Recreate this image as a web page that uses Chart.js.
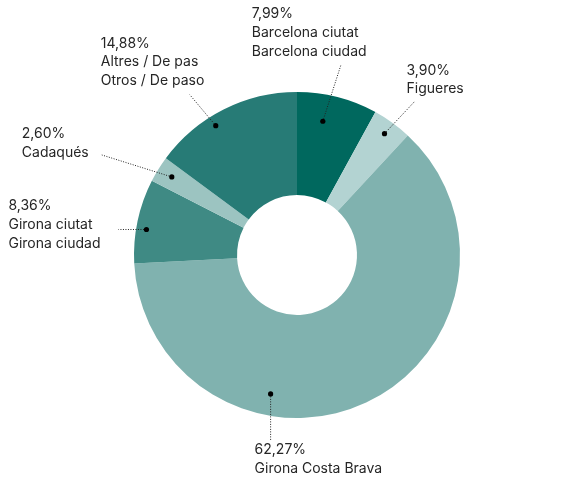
<!DOCTYPE html>
<html>
<head>
<meta charset="utf-8">
<script src="https://cdn.jsdelivr.net/npm/chart.js@4"></script>
<style>
html,body{margin:0;padding:0;background:#fff;}
#wrap{width:586px;height:481px;position:relative;}
</style>
</head>
<body>
<div id="wrap"><canvas id="c" width="586" height="481"></canvas></div>
<script>
// ---- data ----
const categories = ["Barcelona ciutat / Barcelona ciudad", "Figueres", "Girona Costa Brava", "Girona ciutat / Girona ciudad", "Cadaqués", "Altres / De pas / Otros / De paso"];
const labelLines = [
  ["Barcelona ciutat", "Barcelona ciudad"],
  ["Figueres"],
  ["Girona Costa Brava"],
  ["Girona ciutat", "Girona ciudad"],
  ["Cadaqués"],
  ["Altres / De pas", "Otros / De paso"]
];
const shares = [7.99, 3.90, 62.27, 8.36, 2.60, 14.88];
const colors = ["#00685e", "#b3d3d2", "#80b2af", "#3f8a84", "#9cc4c1", "#277b76"];

// ---- annotation layout (relative to each arc) ----
const dotAngleFrac = [0.38, 0.5, 0.66, 0.42, 0.52, 0.40];
const dotRadiusFrac = [0.74, 0.87, 0.79, 0.90, 0.85, 0.90];
const leaderEnd = [[18,-56],[30,-32],[0,47],[-28,0],[-70,-22],[-26,-31]];
const textOffset = [[-71,-103],[22,-59],[-16,60],[-138,-19],[-150,-39],[-115,-78]];

const fmt = v => v.toFixed(2).replace('.', ',') + '%';

const labelPlugin = {
  id: 'leaderLabels',
  afterDraw(chart) {
    const ctx = chart.ctx;
    const meta = chart.getDatasetMeta(0);
    meta.data.forEach((arc, i) => {
      const p = arc.getProps(['x','y','startAngle','endAngle','innerRadius','outerRadius'], true);
      const a = p.startAngle + dotAngleFrac[i] * (p.endAngle - p.startAngle);
      const r = p.innerRadius + dotRadiusFrac[i] * (p.outerRadius - p.innerRadius);
      const dx = p.x + r * Math.cos(a);
      const dy = p.y + r * Math.sin(a);
      ctx.save();
      ctx.strokeStyle = '#222';
      ctx.lineWidth = 1;
      ctx.setLineDash([1, 1.5]);
      ctx.beginPath();
      ctx.moveTo(dx, dy);
      ctx.lineTo(dx + leaderEnd[i][0], dy + leaderEnd[i][1]);
      ctx.stroke();
      ctx.setLineDash([]);
      ctx.fillStyle = '#000';
      ctx.beginPath();
      ctx.arc(dx, dy, 2.6, 0, Math.PI * 2);
      ctx.fill();
      ctx.fillStyle = '#262626';
      ctx.font = '14px Inter';
      ctx.textAlign = 'left';
      ctx.textBaseline = 'alphabetic';
      const lines = [fmt(chart.data.datasets[0].data[i])].concat(labelLines[i]);
      const tx = dx + textOffset[i][0];
      const ty = dy + textOffset[i][1];
      lines.forEach((t, k) => ctx.fillText(t, tx, ty + k * 18.7));
      ctx.restore();
    });
  }
};

new Chart(document.getElementById('c'), {
  type: 'doughnut',
  data: {
    labels: categories,
    datasets: [{
      data: shares,
      backgroundColor: colors,
      borderWidth: 0,
      hoverOffset: 0
    }]
  },
  options: {
    responsive: false,
    animation: false,
    cutout: '36.8%',
    layout: { padding: { left: 134, right: 126, top: 92, bottom: 63 } },
    plugins: { legend: { display: false }, tooltip: { enabled: false } }
  },
  plugins: [labelPlugin]
});
</script>
</body>
</html>
